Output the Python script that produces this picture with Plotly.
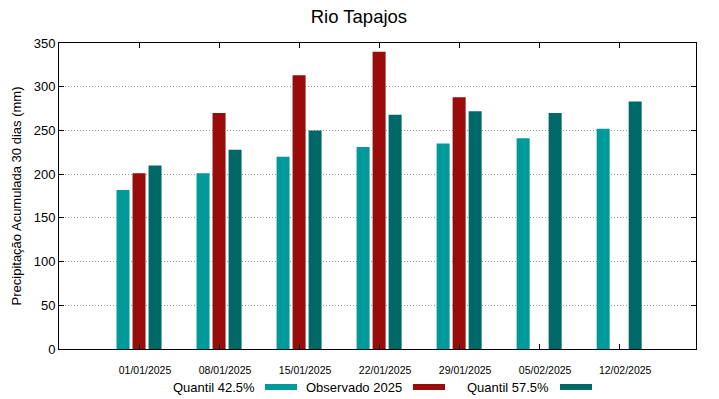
import plotly.graph_objects as go

dates = ["01/01/2025", "08/01/2025", "15/01/2025", "22/01/2025", "29/01/2025", "05/02/2025", "12/02/2025"]
q425 = [182, 201, 220, 231, 235, 241, 252]
obs2025 = [201, 270, 313, 340, 288, None, None]
q575 = [210, 228, 250, 268, 272, 270, 283]

series_names = ["Quantil 42.5%", "Observado 2025", "Quantil 57.5%"]
colors = ["#009a9a", "#990c0c", "#006866"]

x = list(range(len(dates)))
W = 0.1625
offsets = [-0.28125, -0.08125, 0.11875]

fig = go.Figure()
for vals, name, col, off in zip([q425, obs2025, q575], series_names, colors, offsets):
    fig.add_trace(go.Bar(x=x, y=vals, name=name, width=W, offset=off,
                         marker=dict(color=col, line=dict(width=0)), showlegend=False))

L, R, T, B = 59, 23, 43, 50
pw = 719 - L - R
ph = 399 - T - B

def px(xp):
    return (xp - L) / pw

def py(yp):
    return (399 - B - yp) / ph

# custom legend (text followed by colour key, gnuplot style)
legend_items = [(257, 265, 297), (404, 413, 445), (551, 560, 592)]
for (tx, r0, r1), name, col in zip(legend_items, series_names, colors):
    fig.add_annotation(xref="paper", yref="paper", x=px(tx), y=py(387), text=name,
                       showarrow=False, xanchor="right", yanchor="middle",
                       font=dict(size=13, color="#000000"))
    fig.add_shape(type="rect", xref="paper", yref="paper", x0=px(r0), x1=px(r1),
                  y0=py(390), y1=py(384), fillcolor=col, line=dict(width=0))

fig.update_layout(
    width=719, height=399,
    margin=dict(l=L, r=R, t=T, b=B),
    paper_bgcolor="white", plot_bgcolor="white",
    barmode="overlay",
    font=dict(family="Liberation Sans, Arial, sans-serif", color="#000000"),
    title=dict(text="Rio Tapajos", x=px(377), xanchor="center", y=1 - 17 / 399, yanchor="middle",
               font=dict(size=18.5)),
)
fig.update_xaxes(range=[-1, 6.96], tickmode="array", tickvals=x, ticktext=dates,
                 ticks="inside", ticklen=5, tickcolor="#000000", mirror="ticks",
                 showline=True, linecolor="#000000", linewidth=1, showgrid=False,
                 tickfont=dict(size=10.5), zeroline=False,
                 ticklabelshift=6, ticklabelstandoff=11)
fig.update_yaxes(range=[0, 350], tickvals=[0, 50, 100, 150, 200, 250, 300, 350],
                 ticks="inside", ticklen=5, tickcolor="#000000", mirror="ticks",
                 showline=True, linecolor="#000000", linewidth=1,
                 showgrid=True, gridcolor="#999999", griddash="1px,2px", gridwidth=1,
                 tickfont=dict(size=13), zeroline=False,
                 title=dict(text="Precipitação Acumulada 30 dias (mm)", font=dict(size=13), standoff=9))

fig.write_html("out.html", config={"displayModeBar": False},
               post_script="document.body.style.margin='0';document.body.style.overflow='hidden';")
